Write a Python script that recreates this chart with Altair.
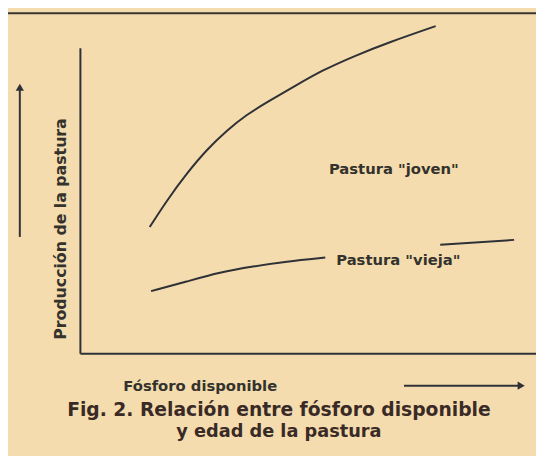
import altair as alt
import pandas as pd

# Curves (abstract units: x 0-100 across the axis, y 0-100 up the axis)
joven_x = [15.3, 19.2, 23.5, 27.9, 32.2, 36.5, 41.5, 47.3, 53.1, 60.3, 67.4, 78.0]
joven_y = [41.3, 50.3, 59.0, 66.8, 72.9, 78.1, 82.6, 87.6, 92.6, 97.4, 101.6, 107.1]
vieja1_x = [15.6, 23.5, 30.7, 38.0, 45.1, 53.8]
vieja1_y = [20.3, 23.5, 26.5, 28.4, 30.0, 31.3]
vieja2_x = [79.0, 95.2]
vieja2_y = [35.5, 37.1]

label_text = ['Pastura "joven"', 'Pastura "vieja"']
label_x = [54.6, 56.2]
label_y = [60.3, 30.6]

x_title = "Fósforo disponible"
y_title = "Producción de la pastura"
fig_title = ["Fig. 2. Relación entre fósforo disponible", "y edad de la pastura"]

INK = "#2f3136"
TXT = "#33322c"
BG = "#f4dcae"

rows = []
for name, xs, ys in [("joven", joven_x, joven_y), ("vieja1", vieja1_x, vieja1_y), ("vieja2", vieja2_x, vieja2_y)]:
    for a, b in zip(xs, ys):
        rows.append({"x": a, "y": b, "serie": name})
curves = pd.DataFrame(rows)
labels = pd.DataFrame({"x": label_x, "y": label_y, "label": label_text})
one = pd.DataFrame({"k": [0]})

xs = alt.Scale(domain=[0, 100])
ys = alt.Scale(domain=[0, 100])
xaxis = alt.Axis(title="", ticks=False, labels=False, grid=False, domain=True,
                 domainColor=INK, domainWidth=2)
yaxis = alt.Axis(title="", ticks=False, labels=False, grid=False, domain=True,
                 domainColor=INK, domainWidth=2)

lines = alt.Chart(curves).mark_line(interpolate="basis", color=INK, strokeWidth=2).encode(
    x=alt.X("x:Q", scale=xs, axis=xaxis),
    y=alt.Y("y:Q", scale=ys, axis=yaxis),
    detail="serie:N",
)

lab = alt.Chart(labels).mark_text(align="left", baseline="middle", font="DejaVu Sans",
                                  fontWeight="bold", fontSize=15, color=TXT).encode(
    x=alt.X("x:Q", scale=xs), y=alt.Y("y:Q", scale=ys), text="label:N")

deco = alt.Chart(one)

frame_top = deco.mark_rule(color="#3a3530", strokeWidth=2).encode(
    x=alt.value(-75), x2=alt.value(470), y=alt.value(-35))
frame_left = deco.mark_rule(color="#3a3530", strokeWidth=2).encode(
    x=alt.value(-74), y=alt.value(-35), y2=alt.value(420))

yarrow = deco.mark_rule(color=INK, strokeWidth=2).encode(
    x=alt.value(-61), y=alt.value(40), y2=alt.value(192))
yhead = deco.mark_point(shape="triangle-up", filled=True, color=INK, size=70, opacity=1).encode(
    x=alt.value(-61), y=alt.value(40))
xarrow = deco.mark_rule(color=INK, strokeWidth=2).encode(
    x=alt.value(329), x2=alt.value(448), y=alt.value(343))
xhead = deco.mark_point(shape="triangle-right", filled=True, color=INK, size=70, opacity=1).encode(
    x=alt.value(448), y=alt.value(343))

xlab = deco.mark_text(text=x_title, align="left", baseline="middle", font="DejaVu Sans",
                      fontWeight="bold", fontSize=15, color=TXT).encode(x=alt.value(44), y=alt.value(343))
ylab = deco.mark_text(text=y_title, align="center", baseline="middle", font="DejaVu Sans",
                      fontWeight="bold", fontSize=16, angle=270, color=TXT).encode(x=alt.value(-19), y=alt.value(184))
t1 = deco.mark_text(text=fig_title[0], align="center", baseline="middle", font="DejaVu Sans",
                    fontWeight="bold", fontSize=19, color="#3a2a26").encode(x=alt.value(202), y=alt.value(368))
t2 = deco.mark_text(text=fig_title[1], align="center", baseline="middle", font="DejaVu Sans",
                    fontWeight="bold", fontSize=18, color="#3a2a26").encode(x=alt.value(202), y=alt.value(390))

chart = alt.layer(frame_top, frame_left, lines, lab, yarrow, yhead, xarrow, xhead, xlab, ylab, t1, t2).properties(
    width=463, height=310,
    autosize=alt.AutoSizeParams(type="none"),
    padding={"left": 73, "top": 37, "right": 0, "bottom": 101},
    background=BG,
).configure_view(stroke=None)

chart.save("out.html", embed_options={"renderer": "svg", "actions": False})
